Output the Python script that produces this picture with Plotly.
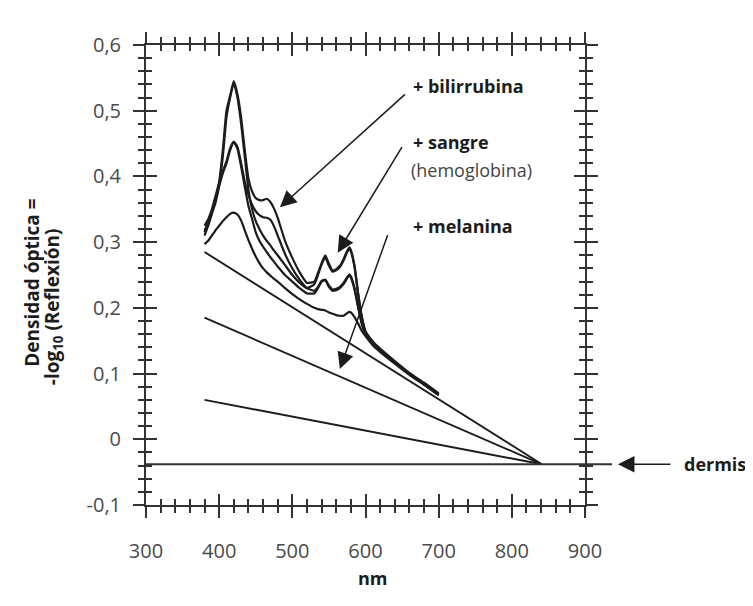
import plotly.graph_objects as go

# ---------------- data ----------------
wavelength = [380, 385, 390, 395, 400, 405, 410, 415, 420, 425, 430, 435, 440, 445, 450,
              455, 460, 465, 470, 475, 480, 490, 500, 510, 520, 530, 535, 540, 545, 550,
              555, 560, 565, 570, 575, 578, 580, 585, 590, 595, 600, 610, 620, 640, 660,
              680, 700]

# low blood
curve_blood_low = [0.297, 0.302, 0.310, 0.318, 0.325, 0.332, 0.338, 0.343, 0.345, 0.342,
                   0.333, 0.318, 0.303, 0.290, 0.278, 0.268, 0.260, 0.254, 0.249, 0.244,
                   0.240, 0.230, 0.221, 0.213, 0.206, 0.200, 0.198, 0.197, 0.196, 0.193,
                   0.191, 0.189, 0.188, 0.188, 0.192, 0.194, 0.193, 0.186, 0.176, 0.165,
                   0.157, 0.143, 0.133, 0.115, 0.098, 0.083, 0.067]
# medium blood
curve_blood_mid = [0.310, 0.325, 0.343, 0.360, 0.385, 0.405, 0.420, 0.440, 0.452, 0.442,
                   0.415, 0.384, 0.355, 0.335, 0.315, 0.302, 0.293, 0.285, 0.277, 0.270,
                   0.263, 0.250, 0.240, 0.230, 0.222, 0.222, 0.230, 0.240, 0.242, 0.232,
                   0.226, 0.227, 0.230, 0.236, 0.245, 0.249, 0.246, 0.228, 0.200, 0.175,
                   0.160, 0.145, 0.135, 0.117, 0.099, 0.084, 0.068]
# high blood
curve_blood_high = [0.318, 0.328, 0.345, 0.365, 0.388, 0.430, 0.490, 0.520, 0.542, 0.520,
                    0.480, 0.430, 0.380, 0.350, 0.332, 0.320, 0.310, 0.302, 0.295, 0.287,
                    0.280, 0.265, 0.250, 0.238, 0.230, 0.236, 0.250, 0.266, 0.277, 0.264,
                    0.255, 0.257, 0.262, 0.272, 0.285, 0.290, 0.286, 0.262, 0.220, 0.185,
                    0.163, 0.148, 0.137, 0.118, 0.100, 0.085, 0.069]
# medium blood + bilirubin
curve_bili_mid = [0.315, 0.330, 0.347, 0.363, 0.388, 0.408, 0.423, 0.443, 0.453, 0.445,
                  0.420, 0.392, 0.372, 0.357, 0.347, 0.341, 0.338, 0.337, 0.334, 0.324,
                  0.310, 0.282, 0.260, 0.243, 0.230, 0.226, 0.232, 0.241, 0.243, 0.234,
                  0.228, 0.229, 0.232, 0.238, 0.247, 0.251, 0.248, 0.230, 0.202, 0.177,
                  0.161, 0.146, 0.136, 0.117, 0.099, 0.084, 0.068]
# high blood + bilirubin
curve_bili_high = [0.325, 0.335, 0.350, 0.370, 0.392, 0.440, 0.500, 0.523, 0.545, 0.525,
                   0.490, 0.440, 0.397, 0.377, 0.367, 0.364, 0.364, 0.366, 0.361, 0.351,
                   0.337, 0.302, 0.276, 0.254, 0.238, 0.240, 0.253, 0.268, 0.280, 0.267,
                   0.257, 0.259, 0.264, 0.274, 0.287, 0.292, 0.288, 0.264, 0.222, 0.187,
                   0.165, 0.149, 0.138, 0.119, 0.101, 0.086, 0.070]

# straight melanin lines (start at 380 nm, converge at 841 nm on the dermis level)
melanin_x = [380, 841]
melanin_high = [0.285, -0.038]
melanin_mid = [0.185, -0.038]
melanin_low = [0.060, -0.038]

dermis_level = -0.038
dermis_x = [300, 900]

x_ticks = [300, 400, 500, 600, 700, 800, 900]
x_tick_labels = ["300", "400", "500", "600", "700", "800", "900"]
y_ticks = [-0.1, 0.0, 0.1, 0.2, 0.3, 0.4, 0.5, 0.6]
y_tick_labels = ["-0,1", "0", "0,1", "0,2", "0,3", "0,4", "0,5", "0,6"]

# ---------------- figure ----------------
INK = "#1c1c1c"
AX = "#333333"
FONT = "Open Sans"

fig = go.Figure()

for ys in [curve_blood_low, curve_blood_mid, curve_blood_high, curve_bili_mid, curve_bili_high]:
    fig.add_trace(go.Scatter(x=wavelength, y=ys, mode="lines",
                             line=dict(color=INK, width=2.2, shape="spline", smoothing=0.5),
                             showlegend=False, hoverinfo="skip"))

for ys in [melanin_high, melanin_mid, melanin_low]:
    fig.add_trace(go.Scatter(x=melanin_x, y=ys, mode="lines",
                             line=dict(color=INK, width=1.9),
                             showlegend=False, hoverinfo="skip"))

fig.add_trace(go.Scatter(x=dermis_x, y=[dermis_level, dermis_level], mode="lines",
                         line=dict(color=AX, width=2), showlegend=False, hoverinfo="skip"))

# dummy trace to activate the overlay axes (inner half of the crossing ticks)
fig.add_trace(go.Scatter(x=[None], y=[None], xaxis="x2", yaxis="y2",
                         showlegend=False, hoverinfo="skip"))

tick_font = dict(family=FONT, size=20, color="#4a4a4a")

fig.update_layout(
    width=745, height=598,
    margin=dict(l=138, r=168, t=37, b=101),
    paper_bgcolor="white", plot_bgcolor="white",
    xaxis=dict(range=[300, 900], tickvals=x_ticks, ticktext=x_tick_labels,
               ticks="outside", ticklen=11, tickwidth=2, tickcolor=AX,
               minor=dict(dtick=20, ticks="outside", ticklen=6, tickwidth=1.5, tickcolor=AX, showgrid=False),
               showline=True, linecolor=AX, linewidth=2, mirror="ticks",
               showgrid=False, zeroline=False, tickfont=tick_font, ticklabelstandoff=16),
    yaxis=dict(range=[-0.1, 0.6], tickvals=y_ticks, ticktext=y_tick_labels,
               ticks="outside", ticklen=11, tickwidth=2, tickcolor=AX,
               minor=dict(dtick=0.02, ticks="outside", ticklen=6, tickwidth=1.5, tickcolor=AX, showgrid=False),
               showline=True, linecolor=AX, linewidth=2, mirror="ticks",
               showgrid=False, zeroline=False, tickfont=tick_font, ticklabelstandoff=8),
    xaxis2=dict(range=[300, 900], overlaying="x", anchor="y2", side="bottom",
                tickvals=x_ticks, ticks="inside", ticklen=11, tickwidth=2, tickcolor=AX,
                minor=dict(dtick=20, ticks="inside", ticklen=6, tickwidth=1.5, tickcolor=AX, showgrid=False),
                showline=False, mirror="ticks", showticklabels=False,
                showgrid=False, zeroline=False),
    yaxis2=dict(range=[-0.1, 0.6], overlaying="y", anchor="x2", side="left",
                tickvals=y_ticks, ticks="inside", ticklen=11, tickwidth=2, tickcolor=AX,
                minor=dict(dtick=0.02, ticks="inside", ticklen=6, tickwidth=1.5, tickcolor=AX, showgrid=False),
                showline=False, mirror="ticks", showticklabels=False,
                showgrid=False, zeroline=False),
    font=dict(family=FONT, color=INK),
)

lab_font_b = dict(family=FONT, size=18, color=INK)
lab_font_n = dict(family=FONT, size=18, color="#444444")

annotations = [
    dict(x=662, y=0.537, text="<b>+ bilirrubina</b>", font=lab_font_b),
    dict(x=662, y=0.452, text="<b>+ sangre</b>", font=lab_font_b),
    dict(x=659, y=0.410, text="(hemoglobina)", font=lab_font_n),
    dict(x=662, y=0.324, text="<b>+ melanina</b>", font=lab_font_b),
]
for a in annotations:
    a.update(xref="x", yref="y", xanchor="left", yanchor="middle", showarrow=False)
    fig.add_annotation(**a)

arrows = [
    # (tail_x, tail_y, tip_x, tip_y)
    (656, 0.527, 483, 0.353),
    (651, 0.447, 562, 0.284),
    (631, 0.313, 565, 0.107),
]
for tx, ty, hx, hy in arrows:
    fig.add_annotation(x=hx, y=hy, ax=tx, ay=ty, xref="x", yref="y", axref="x", ayref="y",
                       text="", showarrow=True, arrowhead=2, arrowsize=2.2,
                       arrowwidth=1.5, arrowcolor=INK, standoff=0, startstandoff=0)

# dermis line extension beyond the right axis (tail inside the range keeps it visible)
fig.add_annotation(x=937, y=dermis_level, ax=900, ay=dermis_level, xref="x", yref="y",
                   axref="x", ayref="y", text="", showarrow=True, arrowhead=0,
                   arrowwidth=2, arrowcolor=AX, standoff=0, startstandoff=0)

# dermis label and arrow (outside the plot area -> paper x coordinates)
dermis_tip_paper = (945 - 300) / 600
fig.add_annotation(x=dermis_tip_paper, y=dermis_level, xref="paper", yref="y",
                   ax=54, ay=0, text="", showarrow=True, arrowhead=2, arrowsize=2.2,
                   arrowwidth=1.5, arrowcolor=INK, standoff=0, startstandoff=0)
fig.add_annotation(x=(1032 - 300) / 600, y=dermis_level, xref="paper", yref="y",
                   text="<b>dermis</b>", showarrow=False, xanchor="left", yanchor="middle",
                   font=lab_font_b)

# axis titles
fig.add_annotation(x=0, y=0.483, xref="paper", yref="paper", xshift=-114,
                   text="<b>Densidad óptica =</b>", textangle=-90, showarrow=False,
                   font=dict(family=FONT, size=19, color=INK), xanchor="center", yanchor="middle")
fig.add_annotation(x=0, y=0.430, xref="paper", yref="paper", xshift=-93,
                   text="<b>-log<sub>10</sub> (Reflexión)</b>", textangle=-90, showarrow=False,
                   font=dict(family=FONT, size=19, color=INK), xanchor="center", yanchor="middle")
fig.add_annotation(x=610, y=0, xref="x", yref="paper", yshift=-73,
                   text="<b>nm</b>", showarrow=False,
                   font=dict(family=FONT, size=18, color=INK), xanchor="center", yanchor="middle")

fig.write_html("out.html")
